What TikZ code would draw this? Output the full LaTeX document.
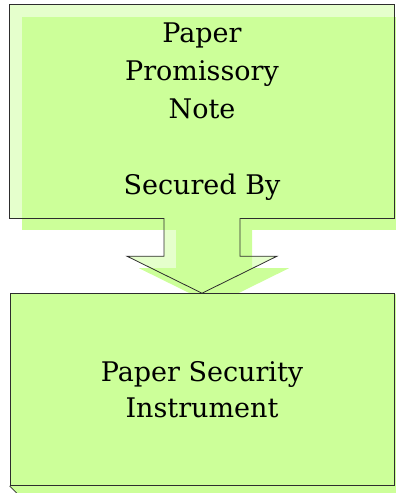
\documentclass[tikz,border=0pt]{standalone}
\usepackage{fontspec}
\setmainfont{DejaVu Serif}
\usetikzlibrary{calc,positioning,backgrounds}
\definecolor{boxgreen}{RGB}{204,255,153}
\definecolor{edgegray}{RGB}{45,45,45}
\tikzset{
	edge/.style={draw=edgegray, line width=0.8pt},
	shadowfill/.style={fill=boxgreen},
	notebox/.style={fill=boxgreen, fill opacity=0.5, text opacity=1, inner sep=0pt,
		minimum width=384pt, minimum height=213pt, align=center,
		font=\fontsize{27}{38}\selectfont},
	securedbox/.style={edge, fill=boxgreen, inner sep=0pt,
		minimum width=384pt, minimum height=192pt, align=center,
		font=\fontsize{27}{36}\selectfont},
	blockarrow/.style={edge, fill=boxgreen, fill opacity=0.5},
}

\begin{document}
\begin{tikzpicture}[x=1pt, y=-1pt]
	\useasboundingbox (0,0) rectangle (396,493);
	\clip (0,0) rectangle (396,493);
	\node[notebox] (note) at (202,111.5) {Paper\\Promissory\\Note\\[38pt]Secured By};
	\node[securedbox, below=75pt of note] (secured) {Paper Security\\Instrument};
	\coordinate (a1) at ($(note.south)+(-38,0)$);
	\coordinate (a2) at ($(a1)+(0,38)$);
	\coordinate (a3) at ($(a2)+(-37,0)$);
	\coordinate (a7) at ($(note.south)+(38,0)$);
	\coordinate (a6) at ($(a7)+(0,38)$);
	\coordinate (a5) at ($(a6)+(37,0)$);
	\begin{scope}[on background layer]
		\fill[shadowfill] ([shift={(12,12)}]note.north west) rectangle ([shift={(12,12)}]note.south east);
		\fill[shadowfill, transform canvas={xshift=12pt, yshift=-12pt}]
			(a1) -- (a2) -- (a3) -- (secured.north) -- (a5) -- (a6) -- (a7) -- cycle;
		\fill[shadowfill] (secured.south west) -- ([shift={(12,12)}]secured.south west)
			-- ([shift={(12,12)}]secured.south east) -- ([shift={(12,12)}]secured.north east)
			-- (secured.north east) -- cycle;
	\end{scope}
	\draw[edge] (a1) -| (note.north west) -| (note.south east) -- (a7);
	\draw[blockarrow] (a1) -- (a2) -- (a3) -- (secured.north) -- (a5) -- (a6) -- (a7);
	\draw[edge] (secured.south west) -- ++(12,12);
\end{tikzpicture}
\end{document}
